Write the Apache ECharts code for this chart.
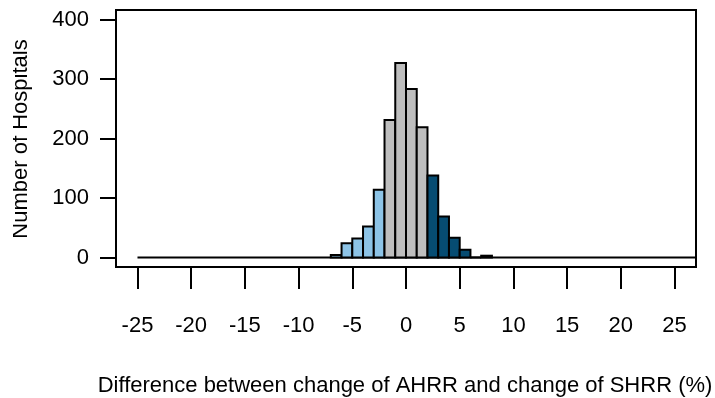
<!DOCTYPE html>
<html>
<head>
<meta charset="utf-8">
<script src="https://cdn.jsdelivr.net/npm/echarts@6/dist/echarts.min.js"></script>
<style>
  html, body { margin: 0; padding: 0; background: #fff; }
  #chart { width: 715px; height: 398px; }
</style>
</head>
<body>
<div id="chart"></div>
<script>
// Histogram of per-hospital differences, 1-point bins (left edge of each bin)
const binLeftEdges = [-7, -6, -5, -4, -3, -2, -1, 0, 1, 2, 3, 4, 5, 6, 7];
const binCounts    = [ 4, 24, 32, 52, 114, 231, 327, 283, 219, 138, 69, 33, 13, 0, 3];
const binWidth = 1;

// Bins below / above these edges are shaded as the two tails
const lowerTailEdge = -2;
const upperTailEdge = 2;

// Full histogram range (empty bins show as a flat baseline)
const histRange = [-25, 27];

const xTicks = [-25, -20, -15, -10, -5, 0, 5, 10, 15, 20, 25];
const yTicks = [0, 100, 200, 300, 400];

const xTitle = 'Difference between change of AHRR and change of SHRR (%)';
const yTitle = 'Number of Hospitals';

const COLORS = { low: '#8DC4E7', mid: '#BEBEBE', high: '#064C72' };
const FONT = '"Liberation Sans", Arial, sans-serif';
const FS = 22;

const binData = binLeftEdges.map((x0, i) => [x0, x0 + binWidth, binCounts[i]]);

function binColor(x0, x1) {
  if (x1 <= lowerTailEdge) return COLORS.low;
  if (x0 >= upperTailEdge) return COLORS.high;
  return COLORS.mid;
}

const chart = echarts.init(document.getElementById('chart'), null, { renderer: 'canvas' });

chart.setOption({
  animation: false,
  backgroundColor: '#fff',
  grid: {
    left: 116, right: 19, top: 10, bottom: 131,
    show: true, borderColor: '#000', borderWidth: 2, backgroundColor: 'transparent'
  },
  xAxis: {
    type: 'value', min: -27, max: 27,
    axisLine: { show: false, onZero: false },
    splitLine: { show: false },
    axisTick: { show: true, length: 22, inside: false, customValues: xTicks,
                lineStyle: { color: '#000', width: 2 } },
    axisLabel: { customValues: xTicks, margin: 48, color: '#000',
                 fontFamily: FONT, fontSize: FS }
  },
  yAxis: {
    type: 'value', min: -16, max: 416,
    axisLine: { show: false, onZero: false },
    splitLine: { show: false },
    axisTick: { show: true, length: 16, inside: false, customValues: yTicks,
                lineStyle: { color: '#000', width: 2 } },
    axisLabel: { customValues: yTicks, margin: 27, color: '#000',
                 fontFamily: FONT, fontSize: FS }
  },
  series: [
    {
      // baseline across the empty bins
      type: 'line',
      data: [[histRange[0], 0], [histRange[1], 0]],
      symbol: 'none',
      lineStyle: { color: '#000', width: 2 },
      silent: true,
      z: 2
    },
    {
      type: 'custom',
      data: binData,
      clip: true,
      z: 3,
      renderItem: function (params, api) {
        const x0 = api.value(0), x1 = api.value(1), n = api.value(2);
        const tl = api.coord([x0, n]);
        const br = api.coord([x1, 0]);
        return {
          type: 'rect',
          shape: { x: tl[0], y: tl[1], width: br[0] - tl[0], height: br[1] - tl[1] },
          style: { fill: binColor(x0, x1), stroke: '#000', lineWidth: 2 }
        };
      }
    }
  ],
  graphic: [
    {
      type: 'text', x: 405, y: 386,
      style: { text: xTitle, fill: '#000', font: FS + 'px ' + FONT,
               align: 'center', verticalAlign: 'middle' }
    },
    {
      type: 'text', x: 20.5, y: 139, rotation: Math.PI / 2,
      style: { text: yTitle, fill: '#000', font: FS + 'px ' + FONT,
               align: 'center', verticalAlign: 'middle' }
    },
    {
      // left page margin trims the top of the rotated title
      type: 'rect', shape: { x: 0, y: 0, width: 13, height: 398 },
      style: { fill: '#fff' }, z: 100
    }
  ]
});
</script>
</body>
</html>
